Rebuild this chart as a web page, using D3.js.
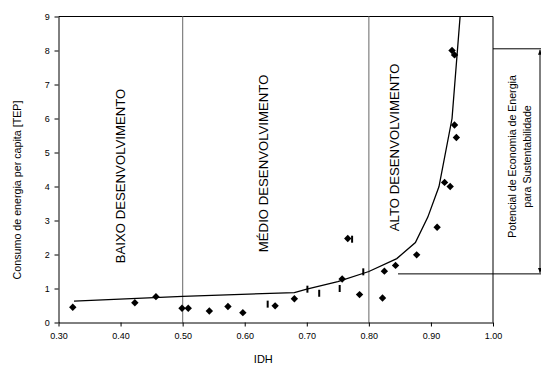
<!DOCTYPE html>
<html>
<head>
<meta charset="utf-8">
<script src="https://cdn.jsdelivr.net/npm/d3@7"></script>
<style>
  body { margin: 0; background: #fff; }
  svg { display: block; font-family: Arial, 'Liberation Sans', sans-serif; }
</style>
</head>
<body>
<div id="chart"></div>
<script>
const W = 541, H = 365

// trend curve
const curveIdh = [0.325, 0.50, 0.68, 0.70, 0.75, 0.80, 0.845, 0.875, 0.895, 0.913, 0.934, 0.947]
const curveTep = [0.63, 0.77, 0.88, 0.98, 1.2, 1.5, 1.88, 2.35, 3.1, 4.0, 6.0, 9.0]

// countries (diamonds)
const diamondIdh = [0.323, 0.423, 0.457, 0.499, 0.509, 0.543, 0.573, 0.597, 0.649, 0.680, 0.757, 0.766,
  0.785, 0.825, 0.822, 0.843, 0.877, 0.910, 0.922, 0.931, 0.938, 0.941, 0.934, 0.938]
const diamondTep = [0.45, 0.58, 0.76, 0.42, 0.42, 0.34, 0.47, 0.29, 0.49, 0.70, 1.28, 2.47,
  0.82, 1.51, 0.72, 1.68, 1.99, 2.8, 4.12, 4.0, 5.81, 5.44, 8.0, 7.87]

// second series (dash markers)
const dashIdh = [0.637, 0.701, 0.720, 0.753, 0.773, 0.791]
const dashTep = [0.54, 0.98, 0.86, 1.0, 2.45, 1.49]

const xTicks = [0.30, 0.40, 0.50, 0.60, 0.70, 0.80, 0.90, 1.00]
const yTicks = [0, 1, 2, 3, 4, 5, 6, 7, 8, 9]

const regions = [
  { x: 0.3995, label: 'BAIXO DESENVOLVIMENTO', y: 4.31 },
  { x: 0.630, label: 'MÉDIO DESENVOLVIMENTO', y: 4.68 },
  { x: 0.841, label: 'ALTO DESENVOLVIMENTO', y: 5.15 },
]
const dividers = [0.50, 0.80]
const savingTop = 8.05, savingBottom = 1.43

const svg = d3.select('#chart').append('svg').attr('width', W).attr('height', H)

const x = d3.scaleLinear().domain([0.30, 1.00]).range([58.5, 493])
const y = d3.scaleLinear().domain([0, 9]).range([322.5, 16.5])

// frame: top and right
svg.append('line').attr('x1', x(0.30)).attr('x2', x(1.00)).attr('y1', y(9)).attr('y2', y(9))
  .attr('stroke', '#000')
svg.append('line').attr('x1', x(1.00)).attr('x2', x(1.00)).attr('y1', y(9)).attr('y2', y(0))
  .attr('stroke', '#000')

// dividers
for (const d of dividers) {
  svg.append('line').attr('x1', x(d)).attr('x2', x(d)).attr('y1', y(9)).attr('y2', y(0))
    .attr('stroke', '#808080').attr('stroke-width', 1.2)
}

// axes
const xAxis = svg.append('g').attr('transform', `translate(0,${y(0)})`)
  .call(d3.axisBottom(x).tickValues(xTicks).tickFormat(d3.format('.2f')).tickSize(4).tickSizeOuter(0))
const yAxis = svg.append('g').attr('transform', `translate(${x(0.30)},0)`)
  .call(d3.axisLeft(y).tickValues(yTicks).tickFormat(d3.format('d')).tickSize(4).tickSizeOuter(0))
for (const g of [xAxis, yAxis]) {
  g.selectAll('text').attr('font-size', 9).attr('fill', '#000').attr('font-family', 'Arial, Liberation Sans, sans-serif')
  g.selectAll('path, line').attr('stroke', '#000')
}
xAxis.selectAll('text').attr('dy', '1.05em')
yAxis.selectAll('text').attr('dx', '-0.2em')

// region labels
for (const r of regions) {
  svg.append('text')
    .attr('transform', `translate(${x(r.x)},${y(r.y)}) rotate(-90)`)
    .attr('text-anchor', 'middle')
    .attr('dominant-baseline', 'central')
    .attr('font-size', 13.2)
    .text(r.label)
}

// trend line
const pts = curveIdh.map((v, i) => [v, curveTep[i]])
svg.append('path').datum(pts)
  .attr('fill', 'none').attr('stroke', '#000').attr('stroke-width', 1.3)
  .attr('d', d3.line().x(d => x(d[0])).y(d => y(d[1])))

// dash markers
svg.selectAll('.dash').data(dashIdh.map((v, i) => [v, dashTep[i]])).enter()
  .append('line')
  .attr('x1', d => x(d[0])).attr('x2', d => x(d[0]))
  .attr('y1', d => y(d[1]) - 3.5).attr('y2', d => y(d[1]) + 3.5)
  .attr('stroke', '#000').attr('stroke-width', 2)

// diamonds
svg.selectAll('.dia').data(diamondIdh.map((v, i) => [v, diamondTep[i]])).enter()
  .append('path')
  .attr('transform', d => `translate(${x(d[0])},${y(d[1])})`)
  .attr('d', 'M0,-3.7L3.7,0L0,3.7L-3.7,0Z')
  .attr('fill', '#000')

// savings annotation
const boxRight = 540
svg.append('line').attr('x1', x(1.00)).attr('x2', W).attr('y1', y(savingTop)).attr('y2', y(savingTop))
  .attr('stroke', '#000')
svg.append('line').attr('x1', x(0.847)).attr('x2', W).attr('y1', y(savingBottom)).attr('y2', y(savingBottom))
  .attr('stroke', '#000')
svg.append('line').attr('x1', boxRight).attr('x2', boxRight)
  .attr('y1', y(savingTop) + 1).attr('y2', y(savingBottom) - 1)
  .attr('stroke', '#000')
svg.append('path').attr('d', `M${boxRight},${y(savingTop) + 1}l-2,5h4z`).attr('fill', '#000')
svg.append('path').attr('d', `M${boxRight},${y(savingBottom) - 1}l-2,-5h4z`).attr('fill', '#000')

const annY = 156.5
const ann = svg.append('text')
  .attr('transform', `translate(512,${annY}) rotate(-90)`)
  .attr('text-anchor', 'middle').attr('dominant-baseline', 'central').attr('font-size', 10.6)
ann.append('tspan').attr('x', 0).attr('dy', 0).text('Potencial de Economia de Energia')
ann.append('tspan').attr('x', 0).attr('dy', 14.5).text('para Sustentabilidade')

// axis titles
svg.append('text').attr('x', x(0.63)).attr('y', 363)
  .attr('text-anchor', 'middle').attr('font-size', 11).text('IDH')
svg.append('text')
  .attr('transform', `translate(17,190) rotate(-90)`)
  .attr('text-anchor', 'middle').attr('dominant-baseline', 'central').attr('font-size', 10.7)
  .text('Consumo de energia per capita [TEP]')
</script>
</body>
</html>
